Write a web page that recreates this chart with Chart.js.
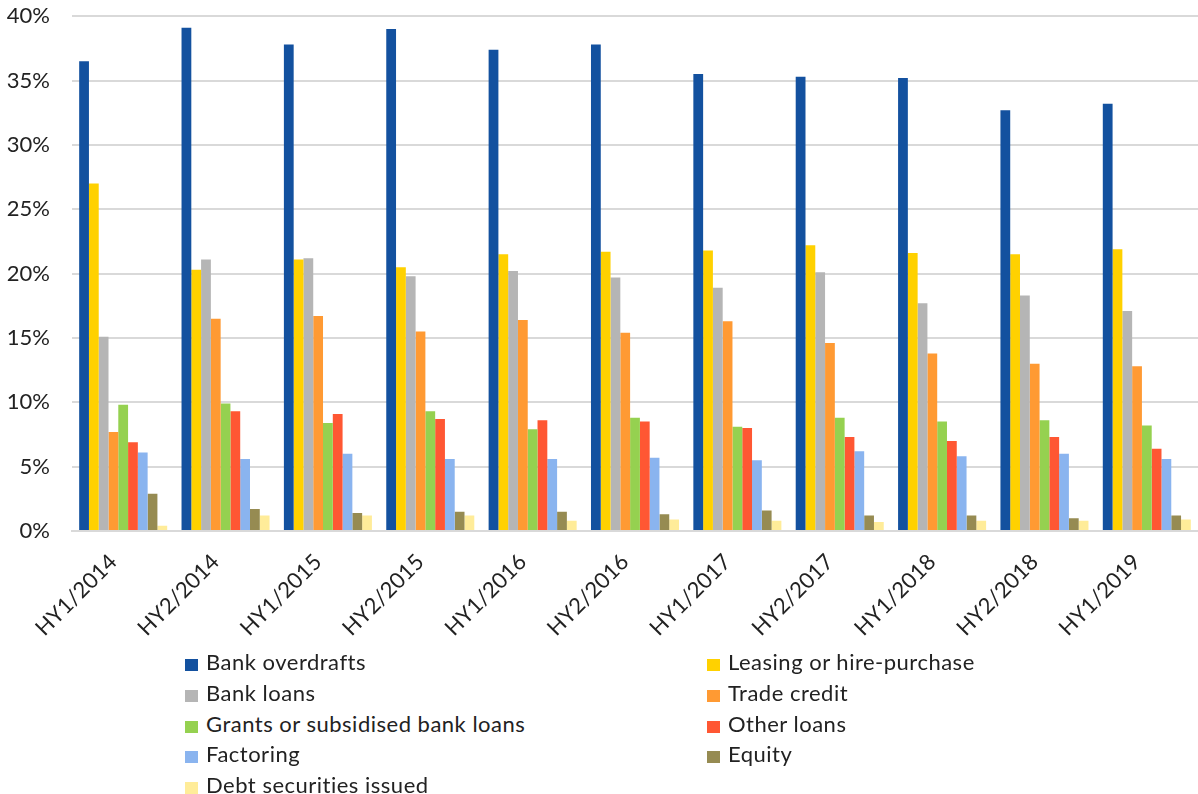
<!DOCTYPE html>
<html>
<head>
<meta charset="utf-8">
<script src="https://cdn.jsdelivr.net/npm/chart.js@4/dist/chart.umd.min.js"></script>
<style>
  body { margin: 0; background: #fff; overflow: hidden; }
  #wrap { position: relative; width: 1198px; height: 794px; overflow: hidden; }
  #myChart { position: absolute; left: 0; top: -19px; }
  #legend { position: absolute; left: 0; top: 647px; width: 1198px; font-family: Lato, sans-serif; font-size: 22px; color: #222; letter-spacing: 0.5px; }
  .item { position: absolute; height: 30px; line-height: 30px; white-space: nowrap; }
  .box { display: inline-block; width: 13px; height: 12px; margin-right: 8px; vertical-align: -1px; }
</style>
</head>
<body>
<div id="wrap">
  <canvas id="myChart" width="1198" height="669"></canvas>
  <div id="legend"></div>
</div>
<script>
// half-year periods
const periods = ['HY1/2014', 'HY2/2014', 'HY1/2015', 'HY2/2015', 'HY1/2016', 'HY2/2016',
  'HY1/2017', 'HY2/2017', 'HY1/2018', 'HY2/2018', 'HY1/2019'];

// share of SMEs using each financing source (%)
const bankOverdrafts = [36.5, 39.1, 37.8, 39.0, 37.4, 37.8, 35.5, 35.3, 35.2, 32.7, 33.2];
const leasing = [27.0, 20.3, 21.1, 20.5, 21.5, 21.7, 21.8, 22.2, 21.6, 21.5, 21.9];
const bankLoans = [15.1, 21.1, 21.2, 19.8, 20.2, 19.7, 18.9, 20.1, 17.7, 18.3, 17.1];
const tradeCredit = [7.7, 16.5, 16.7, 15.5, 16.4, 15.4, 16.3, 14.6, 13.8, 13.0, 12.8];
const grants = [9.8, 9.9, 8.4, 9.3, 7.9, 8.8, 8.1, 8.8, 8.5, 8.6, 8.2];
const otherLoans = [6.9, 9.3, 9.1, 8.7, 8.6, 8.5, 8.0, 7.3, 7.0, 7.3, 6.4];
const factoring = [6.1, 5.6, 6.0, 5.6, 5.6, 5.7, 5.5, 6.2, 5.8, 6.0, 5.6];
const equity = [2.9, 1.7, 1.4, 1.5, 1.5, 1.3, 1.6, 1.2, 1.2, 1.0, 1.2];
const debtSecurities = [0.4, 1.2, 1.2, 1.2, 0.8, 0.9, 0.8, 0.7, 0.8, 0.8, 0.9];

const yTicks = [0, 5, 10, 15, 20, 25, 30, 35, 40];

const series = [
  { label: 'Bank overdrafts', data: bankOverdrafts, color: '#13519f' },
  { label: 'Leasing or hire-purchase', data: leasing, color: '#ffd100' },
  { label: 'Bank loans', data: bankLoans, color: '#b5b5b5' },
  { label: 'Trade credit', data: tradeCredit, color: '#ff9a33' },
  { label: 'Grants or subsidised bank loans', data: grants, color: '#95d150' },
  { label: 'Other loans', data: otherLoans, color: '#ff5733' },
  { label: 'Factoring', data: factoring, color: '#8ab4ef' },
  { label: 'Equity', data: equity, color: '#968b52' },
  { label: 'Debt securities issued', data: debtSecurities, color: '#ffec99' }
];

const font = { family: 'Lato, sans-serif', size: 22 };

const ctx = document.getElementById('myChart').getContext('2d');
const myChart = new Chart(ctx, {
  type: 'bar',
  data: {
    labels: periods,
    datasets: series.map(s => ({
      label: s.label,
      data: s.data,
      backgroundColor: s.color,
      borderWidth: 0,
      categoryPercentage: 0.86,
      barPercentage: 1
    }))
  },
  options: {
    responsive: false,
    devicePixelRatio: 1,
    animation: false,
    layout: { padding: 0 },
    plugins: {
      legend: { display: false },
      tooltip: { enabled: false }
    },
    scales: {
      x: {
        grid: { display: false },
        border: { color: '#d9d9d9', width: 2 },
        ticks: { font: font, color: '#222', minRotation: 45, maxRotation: 45, padding: 10, labelOffset: -10 },
        afterFit: scale => { scale.height = 119; }
      },
      y: {
        min: 0,
        max: 40,
        afterBuildTicks: scale => { scale.ticks = yTicks.map(v => ({ value: v })); },
        grid: { color: '#d9d9d9', lineWidth: 2, drawTicks: false },
        border: { display: false },
        ticks: { font: font, color: '#222', padding: 22, callback: v => v + '%' },
        afterFit: scale => { scale.width = 72; }
      }
    }
  }
});

// legend in two columns, built from the chart's datasets
const legend = document.getElementById('legend');
myChart.data.datasets.forEach((ds, i) => {
  const el = document.createElement('div');
  el.className = 'item';
  el.style.left = (i % 2 === 0 ? 185 : 707) + 'px';
  el.style.top = (Math.floor(i / 2) * 30.75) + 'px';
  el.innerHTML = '<span class="box" style="background:' + ds.backgroundColor + '"></span>' + ds.label;
  legend.appendChild(el);
});
</script>
</body>
</html>
